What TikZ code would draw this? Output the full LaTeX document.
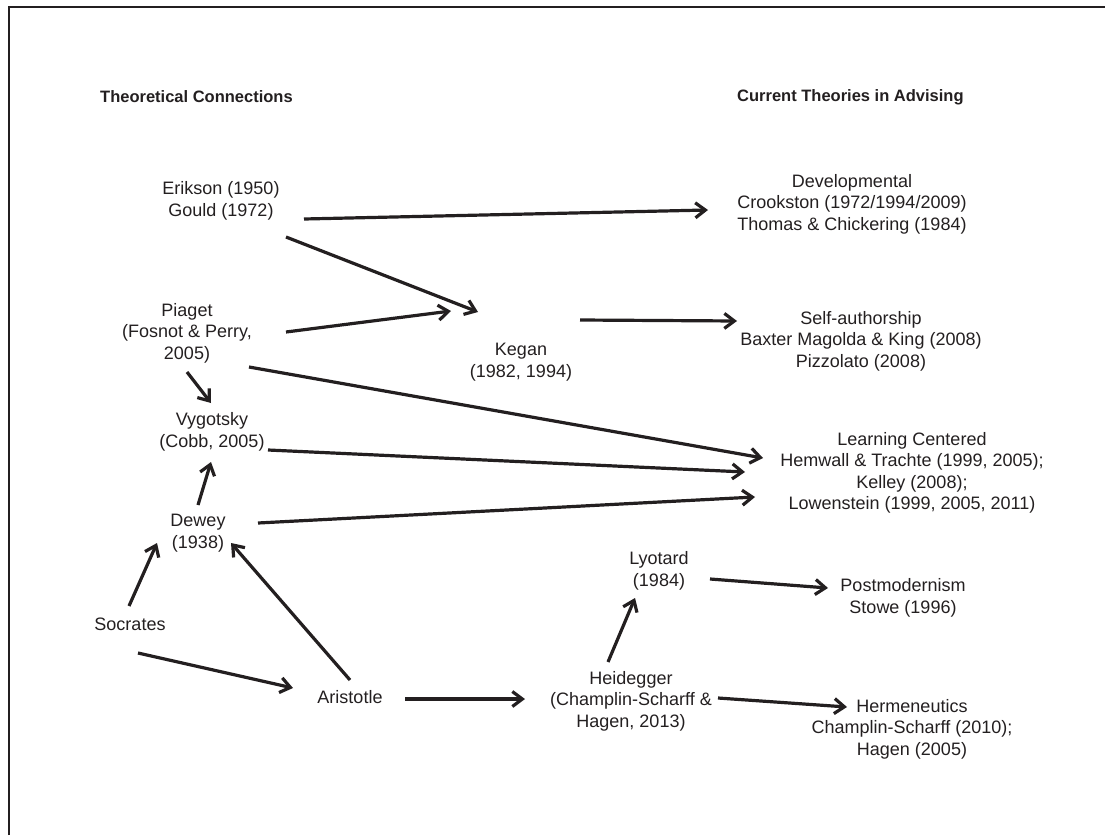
\documentclass[tikz,border=0pt]{standalone}
\usepackage{fontspec}
\setmainfont{Liberation Sans}
\usetikzlibrary{arrows.meta}
\definecolor{ink}{HTML}{231F20}
\begin{document}
\begin{tikzpicture}[x=1pt,y=-1pt,
  lbl/.style={align=center,inner sep=0pt,text=ink,font=\fontsize{18}{21.5}\selectfont},
  hdr/.style={anchor=west,inner sep=0pt,text=ink,font=\fontsize{16.5}{20}\selectfont\bfseries},
  conn/.style={draw=ink,line width=3.2pt,-{Straight Barb[length=10pt,width=15pt,line width=3.2pt]}},
  frame/.style={draw=ink,line width=2.5pt}]
\useasboundingbox (0,0) rectangle (1105,835);
\coordinate (fa) at (9,835);
\coordinate (fb) at (9,7);
\coordinate (fc) at (1105,7);
\draw[frame] (fa) -- (fb) -- (fc);

\node[hdr] (hl) at (100,97) {Theoretical Connections};
\node[hdr] (hr) at (737,97) {Current Theories in Advising};

\node[lbl] (eg) at (221,201) {Erikson (1950)\\Gould (1972)};
\node[lbl] (pi) at (187,333) {Piaget\\(Fosnot \& Perry,\\2005)};
\node[lbl] (vy) at (212,432) {Vygotsky\\(Cobb, 2005)};
\node[lbl] (de) at (198,533) {Dewey\\(1938)};
\node[lbl] (so) at (130,624) {Socrates};
\node[lbl] (ar) at (350,697) {Aristotle};
\node[lbl] (ke) at (521,362) {Kegan\\(1982, 1994)};
\node[lbl] (dev) at (852,204) {Developmental\\Crookston (1972/1994/2009)\\Thomas \& Chickering (1984)};
\node[lbl] (sa) at (861,341) {Self-authorship\\Baxter Magolda \& King (2008)\\Pizzolato (2008)};
\node[lbl] (lc) at (912,473) {Learning Centered\\Hemwall \& Trachte (1999, 2005);\\Kelley (2008);\\Lowenstein (1999, 2005, 2011)};
\node[lbl] (ly) at (659,571) {Lyotard\\(1984)};
\node[lbl] (pm) at (903,598) {Postmodernism\\Stowe (1996)};
\node[lbl] (he) at (631,701) {Heidegger\\(Champlin-Scharff \&\\Hagen, 2013)};
\node[lbl] (hm) at (912,729) {Hermeneutics\\Champlin-Scharff (2010);\\Hagen (2005)};

\draw[conn] ([shift={(83,18)}]eg.center) -- ([shift={(-144,6)}]dev.center);
\draw[conn] ([shift={(65,36)}]eg.center) -- ([shift={(-43,-50)}]ke.center);
\draw[conn] ([shift={(99,-1)}]pi.center) -- ([shift={(-70,-51)}]ke.center);
\draw[conn] ([shift={(59,-42)}]ke.center) -- ([shift={(-124,-20)}]sa.center);
\draw[conn] ([shift={(62,34)}]pi.center) -- ([shift={(-149,-15)}]lc.center);
\draw[conn] ([shift={(0,39)}]pi.center) -- ([shift={(-1,-29)}]vy.center);
\draw[conn] ([shift={(56,18)}]vy.center) -- ([shift={(-167,-1)}]lc.center);
\draw[conn] ([shift={(0,-28)}]de.center) -- ([shift={(-1,30)}]vy.center);
\draw[conn] ([shift={(60,-10)}]de.center) -- ([shift={(-157,24)}]lc.center);
\draw[conn] ([shift={(-1,-18)}]so.center) -- ([shift={(-41,10)}]de.center);
\draw[conn] ([shift={(8,29)}]so.center) -- ([shift={(-57,-9)}]ar.center);
\draw[conn] ([shift={(0,-17)}]ar.center) -- ([shift={(33,10)}]de.center);
\draw[conn] ([shift={(55,2)}]ar.center) -- ([shift={(-106,-2)}]he.center);
\draw[conn] ([shift={(-23,-39)}]he.center) -- ([shift={(-24,27)}]ly.center);
\draw[conn] ([shift={(51,8)}]ly.center) -- ([shift={(-75,-10)}]pm.center);
\draw[conn] ([shift={(87,-3)}]he.center) -- ([shift={(-65,-22)}]hm.center);
\end{tikzpicture}
\end{document}
